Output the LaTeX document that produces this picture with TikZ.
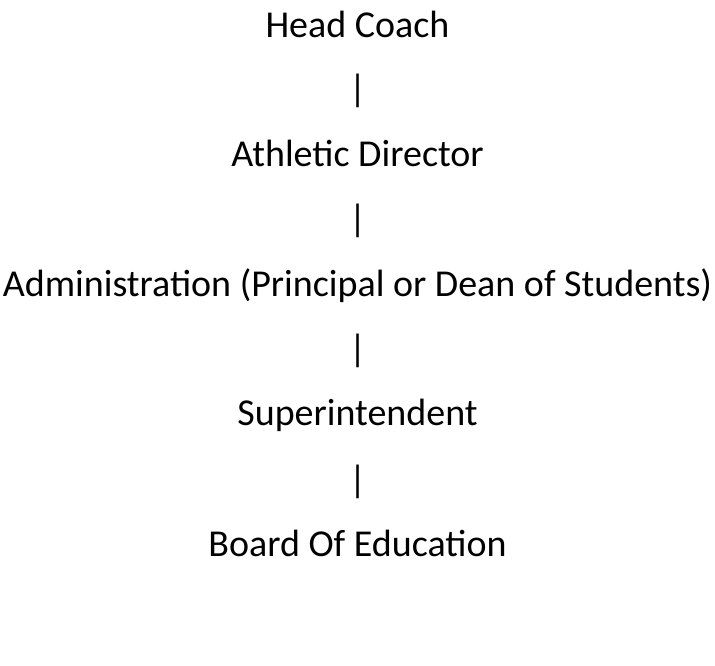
\documentclass[tikz,border=0pt]{standalone}
\usepackage{fontspec}
\setmainfont{Carlito}
\usepackage{tikz}
\usetikzlibrary{positioning}
\tikzstyle{role} = [font=\fontsize{38}{46}\selectfont, anchor=base, inner sep=0pt]
\tikzstyle{bar} = [font=\fontsize{38}{46}\selectfont, anchor=center, inner sep=0pt]

\begin{document}
\begin{tikzpicture}[x=1pt, y=1pt]
    % page frame
    \useasboundingbox (0,0) rectangle (715,-665);

    % Chain of command
    \node[role] (coach) at (357.5,-37) {Head Coach};
    \node[bar] (bar1) at (357.5,-91) {|};
    \node[role] (ad) at (357.5,-166) {Athletic Director};
    \node[bar] (bar2) at (357.5,-221) {|};
    \node[role] (admin) at (357.5,-296) {Administration (Principal or Dean of Students)};
    \node[bar] (bar3) at (357.5,-351) {|};
    \node[role] (super) at (357.5,-425) {Superintendent};
    \node[bar] (bar4) at (357.5,-482) {|};
    \node[role] (board) at (357.5,-556) {Board Of Education};
\end{tikzpicture}
\end{document}
